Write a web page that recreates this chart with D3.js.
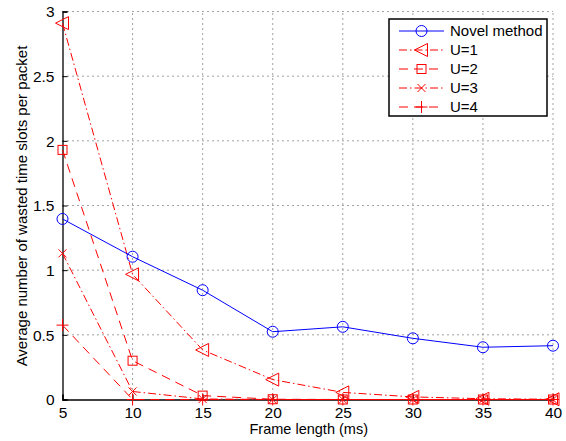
<!DOCTYPE html>
<html>
<head>
<meta charset="utf-8">
<script src="https://cdn.jsdelivr.net/npm/d3@7"></script>
<style>
  body { margin: 0; background: #fff; }
  svg text { font-family: "Liberation Sans", Arial, sans-serif; }
</style>
</head>
<body>
<div id="chart"></div>
<script>
// frame lengths (ms)
var frameLengths = [5, 10, 15, 20, 25, 30, 35, 40];
var novelValues = [1.396, 1.104, 0.845, 0.524, 0.562, 0.473, 0.404, 0.416];
var u1Values = [2.91, 0.968, 0.383, 0.154, 0.055, 0.02, 0.006, 0.002];
var u2Values = [1.93, 0.30, 0.03, 0.002, 0, 0, 0, 0];
var u3Values = [1.13, 0.062, 0.004, 0, 0, 0, 0, 0];
var u4Values = [0.575, 0, 0, 0, 0, 0, 0, 0];
var xTicks = [5, 10, 15, 20, 25, 30, 35, 40];
var yTicks = [0, 0.5, 1, 1.5, 2, 2.5, 3];
var seriesNames = ["Novel method", "U=1", "U=2", "U=3", "U=4"];

var W = 566, H = 441;
var margin = {left: 62.5, right: 13, top: 11.5, bottom: 41.5};

var svg = d3.select("#chart").append("svg")
    .attr("width", W).attr("height", H);

var x = d3.scaleLinear().domain([5, 40]).range([margin.left, W - margin.right]);
var y = d3.scaleLinear().domain([0, 3]).range([H - margin.bottom, margin.top]);

// grid
svg.append("g").selectAll("line").data(xTicks.slice(1)).enter().append("line")
    .attr("x1", d => x(d)).attr("x2", d => x(d))
    .attr("y1", y(0)).attr("y2", y(3))
    .attr("stroke", "#444").attr("stroke-width", 1).attr("stroke-dasharray", "1,4");
svg.append("g").selectAll("line").data(yTicks.slice(1)).enter().append("line")
    .attr("y1", d => y(d)).attr("y2", d => y(d))
    .attr("x1", x(5)).attr("x2", x(40))
    .attr("stroke", "#444").attr("stroke-width", 1).attr("stroke-dasharray", "1,4");

// axes
var xAxis = d3.axisBottom(x).tickValues(xTicks).tickSize(-5).tickPadding(7).tickFormat(d3.format("d"));
var yAxis = d3.axisLeft(y).tickValues(yTicks).tickSize(-5).tickPadding(8).tickFormat(d => d);

var gx = svg.append("g").attr("transform", "translate(0," + y(0) + ")").call(xAxis);
var gy = svg.append("g").attr("transform", "translate(" + x(5) + ",0)").call(yAxis);
[gx, gy].forEach(function (g) {
    g.attr("font-size", 15.5).attr("font-family", "Liberation Sans, Arial, sans-serif");
    g.select(".domain").attr("stroke", "#000").attr("stroke-width", 1.3);
    g.selectAll(".tick line").attr("stroke", "#000");
    g.selectAll(".tick text").attr("fill", "#000");
});
gy.selectAll(".tick text").attr("dy", "0.35em");

svg.append("text").attr("x", x(22.5) + 1).attr("y", 434)
    .attr("text-anchor", "middle").attr("font-size", 14.5).text("Frame length (ms)");
svg.append("text").attr("transform", "translate(27," + 206 + ") rotate(-90)")
    .attr("text-anchor", "middle").attr("font-size", 15)
    .text("Average number of wasted time slots per packet");

// markers
function drawMarker(g, kind, cx, cy, color) {
    if (kind === "circle") {
        g.append("circle").attr("cx", cx).attr("cy", cy).attr("r", 5.5)
            .attr("fill", "none").attr("stroke", color).attr("stroke-width", 1);
    } else if (kind === "triangle") {
        g.append("path").attr("d", "M" + (cx - 7) + "," + cy + "L" + (cx + 6) + "," + (cy - 6.5) +
            "L" + (cx + 6) + "," + (cy + 6.5) + "Z")
            .attr("fill", "none").attr("stroke", color).attr("stroke-width", 1);
    } else if (kind === "square") {
        g.append("rect").attr("x", cx - 4.5).attr("y", cy - 4.5).attr("width", 9).attr("height", 9)
            .attr("fill", "none").attr("stroke", color).attr("stroke-width", 1);
    } else if (kind === "x") {
        g.append("path").attr("d", "M" + (cx - 4) + "," + (cy - 4) + "L" + (cx + 4) + "," + (cy + 4) +
            "M" + (cx - 4) + "," + (cy + 4) + "L" + (cx + 4) + "," + (cy - 4))
            .attr("stroke", color).attr("stroke-width", 1);
    } else if (kind === "plus") {
        g.append("path").attr("d", "M" + (cx - 6) + "," + cy + "L" + (cx + 6) + "," + cy +
            "M" + cx + "," + (cy - 6) + "L" + cx + "," + (cy + 6))
            .attr("stroke", color).attr("stroke-width", 1);
    }
}

var series = [
    {name: seriesNames[0], values: novelValues, color: "#0000ff", dash: null, marker: "circle"},
    {name: seriesNames[1], values: u1Values, color: "#ff0000", dash: "8,3,1.5,3", marker: "triangle"},
    {name: seriesNames[2], values: u2Values, color: "#ff0000", dash: "9,6", marker: "square"},
    {name: seriesNames[3], values: u3Values, color: "#ff0000", dash: "8,3,1.5,3", marker: "x"},
    {name: seriesNames[4], values: u4Values, color: "#ff0000", dash: "9,6", marker: "plus"}
];

var line = d3.line().x(d => x(d[0])).y(d => y(d[1]));

series.slice().reverse().forEach(function (s) {
    var pts = frameLengths.map((f, i) => [f, s.values[i]]);
    var g = svg.append("g");
    g.append("path").datum(pts).attr("d", line)
        .attr("fill", "none").attr("stroke", s.color).attr("stroke-width", 1)
        .attr("stroke-dasharray", s.dash);
    pts.forEach(p => drawMarker(g, s.marker, x(p[0]), y(p[1]), s.color));
});

// legend
var lg = svg.append("g");
lg.append("rect").attr("x", 389).attr("y", 19).attr("width", 158).attr("height", 97)
    .attr("fill", "#fff").attr("stroke", "#000").attr("stroke-width", 1.5);
series.forEach(function (s, i) {
    var ly = 31 + i * 19;
    lg.append("line").attr("x1", 399).attr("x2", 444).attr("y1", ly).attr("y2", ly)
        .attr("stroke", s.color).attr("stroke-width", 1).attr("stroke-dasharray", s.dash);
    drawMarker(lg, s.marker, 421.5, ly, s.color);
    lg.append("text").attr("x", 450).attr("y", ly).attr("dy", "0.35em")
        .attr("font-size", 15).text(s.name);
});
</script>
</body>
</html>
